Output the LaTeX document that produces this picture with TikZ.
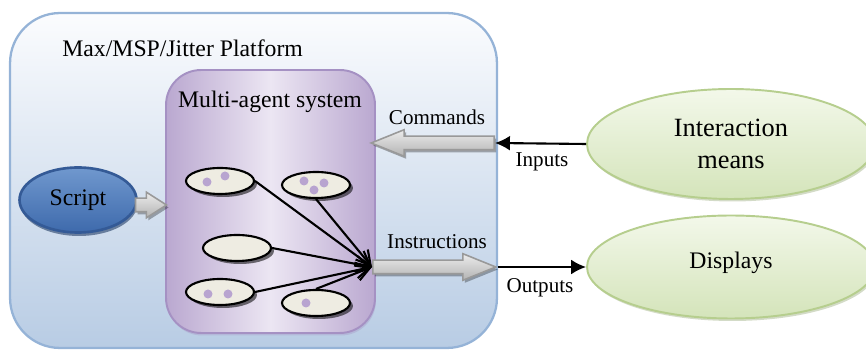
\documentclass[tikz,border=0pt]{standalone}
\usepackage{fontspec}
\setmainfont{Liberation Serif}
\usetikzlibrary{shapes.geometric,shapes.arrows,arrows.meta,shadows}

\definecolor{platline}{RGB}{149,179,215}
\definecolor{plattop}{RGB}{251,252,254}
\definecolor{platbot}{RGB}{184,204,228}
\definecolor{masline}{RGB}{165,145,195}
\definecolor{masdark}{RGB}{186,168,208}
\definecolor{maslight}{RGB}{236,230,243}
\definecolor{scriptline}{RGB}{52,90,150}
\definecolor{scripttop}{RGB}{112,152,206}
\definecolor{scriptbot}{RGB}{62,106,172}
\definecolor{agentfill}{RGB}{238,236,226}
\definecolor{dotfill}{RGB}{184,164,208}
\definecolor{greenline}{RGB}{182,206,142}
\definecolor{greentop}{RGB}{243,248,234}
\definecolor{greenbot}{RGB}{212,228,186}

\tikzset{
  agent/.style={draw, ellipse, line width=1.2pt, fill=agentfill, minimum width=1.36cm, minimum height=0.52cm, inner sep=0,
    drop shadow={shadow xshift=0.06cm, shadow yshift=-0.06cm, fill=black, opacity=0.55}},
  dot/.style={circle, fill=dotfill, minimum size=0.18cm, inner sep=0},
  bigarrow/.style={single arrow, draw=gray!80, line width=0.9pt, top color=gray!15, bottom color=gray!60,
    minimum width=0.5cm, single arrow head extend=0.13cm, single arrow tip angle=44, inner xsep=0, inner ysep=0.12cm,
    drop shadow={shadow xshift=0.04cm, shadow yshift=-0.05cm, fill=black, opacity=0.3}},
  device/.style={ellipse, draw=greenline, line width=1.1pt, top color=greentop, bottom color=greenbot,
    minimum width=5.76cm, align=center,
    drop shadow={shadow xshift=0.03cm, shadow yshift=-0.05cm, fill=greenline!80!black, opacity=0.4}},
  lbl/.style={font=\fontsize{12}{14}\selectfont, inner sep=0},
  big/.style={font=\fontsize{13.5}{16}\selectfont},
  link/.style={line width=1.2pt, -{Straight Barb[length=8pt,width=9pt]}},
  io/.style={line width=1.2pt, -{Latex[length=8.5pt,width=8.5pt]}},
}

\begin{document}
\begin{tikzpicture}[x=0.02cm, y=-0.02cm]
    \clip (0,0) rectangle (866,350);

    \node[draw=platline, line width=1.3pt, rounded corners=1cm, top color=plattop, bottom color=platbot,
          minimum width=9.74cm, minimum height=6.7cm] (platform) at (253.5,180.5) {};
    \node[big, anchor=west, inner sep=0] (platlabel) at (62,48) {Max/MSP/Jitter Platform};

    \node[draw=masline, line width=1.1pt, rounded corners=0.7cm, left color=masdark, right color=masdark, middle color=maslight,
          minimum width=4.18cm, minimum height=5.26cm,
          drop shadow={shadow xshift=0.02cm, shadow yshift=-0.05cm, fill=masline, opacity=0.35}] (mas) at (270.5,201.5) {};
    \node[big, inner sep=0] (maslabel) at (270,102) {Multi-agent system};

    \node[ellipse, draw=scriptline, line width=1.5pt, top color=scripttop, bottom color=scriptbot,
          minimum width=2.34cm, minimum height=1.3cm, big,
          drop shadow={shadow xshift=0.02cm, shadow yshift=-0.07cm, fill=scriptline!70!black, opacity=0.6}] (script) at (78,200) {Script};
    \node[bigarrow, single arrow tip angle=65, minimum width=0.48cm, single arrow head extend=0.12cm,
          minimum height=0.62cm, anchor=tip] (scriptarrow) at (168,205) {};

    % agents
    \node[agent] (a1) at (220,181) {};
    \node[agent] (a2) at (316,185) {};
    \node[agent] (a3) at (237,248) {};
    \node[agent] (a4) at (220,292) {};
    \node[agent] (a5) at (316,303) {};

    \node[dot] (d1) at (207,182) {};
    \node[dot] (d2) at (225,176) {};
    \node[dot] (d3) at (304,181) {};
    \node[dot] (d4) at (324,183) {};
    \node[dot] (d5) at (314,190) {};
    \node[dot] (d6) at (208,294) {};
    \node[dot] (d7) at (228,294) {};
    \node[dot] (d8) at (306,303) {};

    % block arrows
    \node[bigarrow, shape border rotate=180, minimum height=2.46cm, anchor=tail] (cmd) at (495,143) {};
    \node[bigarrow, minimum height=2.46cm, anchor=tail] (ins) at (372,267) {};

    \node[lbl] (cmdlabel) at (437,117) {Commands};
    \node[lbl] (inslabel) at (437,242) {Instructions};

    % outside world
    \node[device, minimum height=2.2cm, font=\fontsize{15}{18}\selectfont] (means) at (731,144) {Interaction\\means};
    \node[device, minimum height=2.06cm, font=\fontsize{13.5}{16}\selectfont] (displays) at (731,267) {\raisebox{8pt}{Displays}};

    \node[lbl] (inlabel) at (542,162) {Inputs};
    \node[lbl] (outlabel) at (540,288) {Outputs};

    \draw[link] (a1.east) -- (ins.tail);
    \draw[link] (a2.south) -- (ins.tail);
    \draw[link] (a3.east) -- (ins.tail);
    \draw[link] (a4.east) -- (ins.tail);
    \draw[link] (a5.north) -- (ins.tail);

    \draw[io] (means.west) -- (cmd.tail);
    \draw[io] (ins.tip) -- (displays.west);

\end{tikzpicture}
\end{document}
